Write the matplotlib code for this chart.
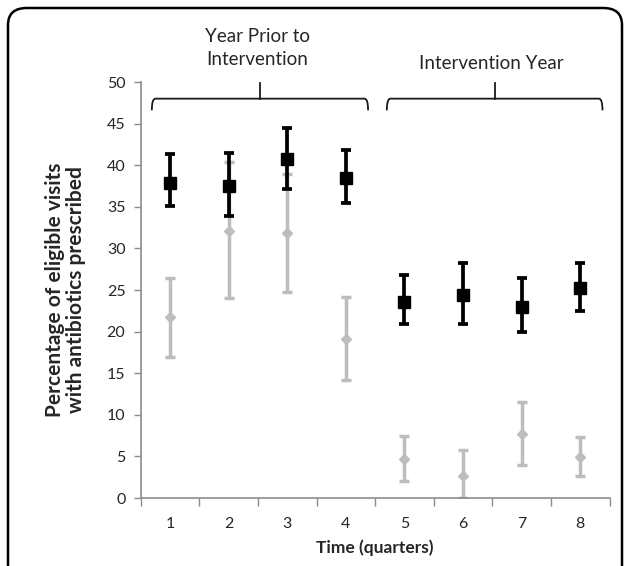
import matplotlib.pyplot as plt
from matplotlib.patches import FancyBboxPatch, PathPatch
from matplotlib.path import Path

plt.rcParams['font.family'] = ['Lato', 'DejaVu Sans']

quarters = [1, 2, 3, 4, 5, 6, 7, 8]

# black series (squares)
black_mean = [37.9, 37.5, 40.8, 38.5, 23.6, 24.4, 23.0, 25.2]
black_high = [41.3, 41.5, 44.5, 41.8, 26.8, 28.3, 26.4, 28.2]
black_low = [35.1, 33.9, 37.1, 35.5, 20.9, 20.9, 20.0, 22.5]

# gray series (diamonds)
gray_mean = [21.8, 32.1, 31.9, 19.1, 4.7, 2.7, 7.7, 4.9]
gray_high = [26.4, 40.4, 38.9, 24.2, 7.4, 5.8, 11.5, 7.3]
gray_low = [17.0, 24.0, 24.8, 14.2, 2.1, 0.0, 4.0, 2.6]

groups = ['Year Prior to\nIntervention', 'Intervention Year']

fig = plt.figure(figsize=(6.27, 5.66), dpi=100)
ax = fig.add_axes([0.2244, 0.1201, 0.7477, 0.735])

axis_gray = '#8c8c8c'
text_col = '#262626'

g_err = [[m - l for m, l in zip(gray_mean, gray_low)],
         [h - m for m, h in zip(gray_mean, gray_high)]]
ax.errorbar(quarters, gray_mean, yerr=g_err, fmt='D', color='#bdbdbd',
            ms=5, elinewidth=2.5, capsize=3.6, capthick=2.5, zorder=2)

b_err = [[m - l for m, l in zip(black_mean, black_low)],
         [h - m for m, h in zip(black_mean, black_high)]]
ax.errorbar(quarters, black_mean, yerr=b_err, fmt='s', color='black',
            ms=8.5, elinewidth=2.7, capsize=3.6, capthick=2.7, zorder=3)

ax.set_xlim(0.5, 8.5)
ax.set_ylim(0, 50)
ax.set_yticks(range(0, 51, 5))
ax.set_xticks(quarters)
ax.set_xticks([q + 0.5 for q in [0] + quarters], minor=True)
ax.tick_params(axis='x', which='major', length=0, pad=14, labelsize=11.5, labelcolor=text_col)
ax.tick_params(axis='x', which='minor', length=6, width=1, color=axis_gray, direction='out')
ax.tick_params(axis='y', length=5, width=1, color=axis_gray, direction='out',
               labelsize=11.5, pad=6, labelcolor=text_col)

for side in ['top', 'right']:
    ax.spines[side].set_visible(False)
for side in ['left', 'bottom']:
    ax.spines[side].set_color(axis_gray)
    ax.spines[side].set_linewidth(1.2)

ax.set_xlabel('Time (quarters)', fontsize=12.5, fontweight='bold', labelpad=6, color=text_col)
ax.set_ylabel('Percentage of eligible visits\nwith antibiotics prescribed',
              fontsize=15, fontweight='bold', labelpad=15, linespacing=1.08, color=text_col)


# curly brackets above the two years
def bracket(x0, x1, label, text_y):
    xm = (x0 + x1) / 2
    y_line = 48.0
    y_end = 46.6
    dx = 0.06
    verts = [(x0, y_end), (x0, y_line), (x0 + dx, y_line),
             (x1 - dx, y_line), (x1, y_line), (x1, y_end)]
    codes = [Path.MOVETO, Path.CURVE3, Path.CURVE3,
             Path.LINETO, Path.CURVE3, Path.CURVE3]
    ax.add_patch(PathPatch(Path(verts, codes), fill=False, edgecolor='#1a1a1a',
                           lw=1.3, clip_on=False))
    ax.plot([xm, xm], [y_line, 49.9], color='#1a1a1a', lw=1.3, clip_on=False)
    ax.text(xm - 0.05, text_y, label, ha='center', va='center', fontsize=13.5,
            linespacing=1.42, clip_on=False, color=text_col)


bracket(0.69, 4.38, groups[0], 54.1)
bracket(4.70, 8.38, groups[1], 52.2)

# rounded frame around the figure
frame = FancyBboxPatch((8 / 627, -0.1), 614 / 627, 1.1 - 8 / 566,
                       boxstyle='round,pad=0,rounding_size=0.03',
                       transform=fig.transFigure, fill=False,
                       edgecolor='black', linewidth=1.8)
fig.patches.append(frame)

fig.savefig('out.png', dpi=100)
